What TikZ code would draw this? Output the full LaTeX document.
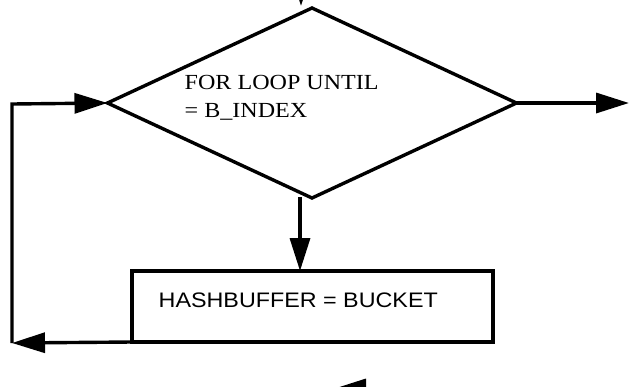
\documentclass[tikz,border=0pt]{standalone}
\usepackage{fontspec}
\setmainfont[FakeStretch=1.12]{Liberation Serif}
\newfontfamily\boxfont[FakeStretch=1.11]{Liberation Sans}
\usetikzlibrary{shapes.geometric,arrows.meta}
\begin{document}
\begin{tikzpicture}[x=1pt,y=-1pt,line width=3.4pt,line join=miter,
  flow/.style={-{Triangle[length=33pt,width=20pt]}},
  decision/.style={draw,diamond,minimum width=409pt,minimum height=190pt,inner sep=0pt,outer sep=0pt},
  process/.style={draw,rectangle,minimum width=361pt,minimum height=71pt,inner sep=0pt,outer sep=0pt},
  dtxt/.style={anchor=base west,inner sep=0pt,font=\fontsize{21.5}{26}\selectfont},
  btxt/.style={anchor=base west,inner sep=0pt,font=\boxfont\fontsize{21}{26}\selectfont}]
\useasboundingbox (0,0) rectangle (629,386);
\clip (0,0) rectangle (629,386);
% shapes
\node[decision] (d) at (312,103) {};
\node[dtxt] (t1) at (183,89) {FOR LOOP UNTIL};
\node[dtxt] (t2) at (183,117) {= B\_INDEX};
\node[process] (b) at (312.5,306.5) {};
\node[btxt] (bt) at (157,307) {HASHBUFFER = BUCKET};
% connector end points
\coordinate (inTop) at (301,-40);
\coordinate (inTip) at (301,6);
\coordinate (outR) at (629,103);
\coordinate (dBot) at (300,197);
\coordinate (bTop) at (300,271);
\coordinate (cl) at (12,343);
\coordinate (cu) at (12,104);
\coordinate (nxSrc) at (430,389);
\coordinate (nxTip) at (333,389);
% connectors
\draw[flow] (inTop) -- (inTip);
\draw[flow] (d.east) -- (outR);
\draw[flow] (dBot) -- (bTop);
\draw[flow] (b.south west) -- (cl);
\draw[flow] (cl) -- (cu) -- (d.west);
\draw[flow] (nxSrc) -- (nxTip);
\end{tikzpicture}
\end{document}
